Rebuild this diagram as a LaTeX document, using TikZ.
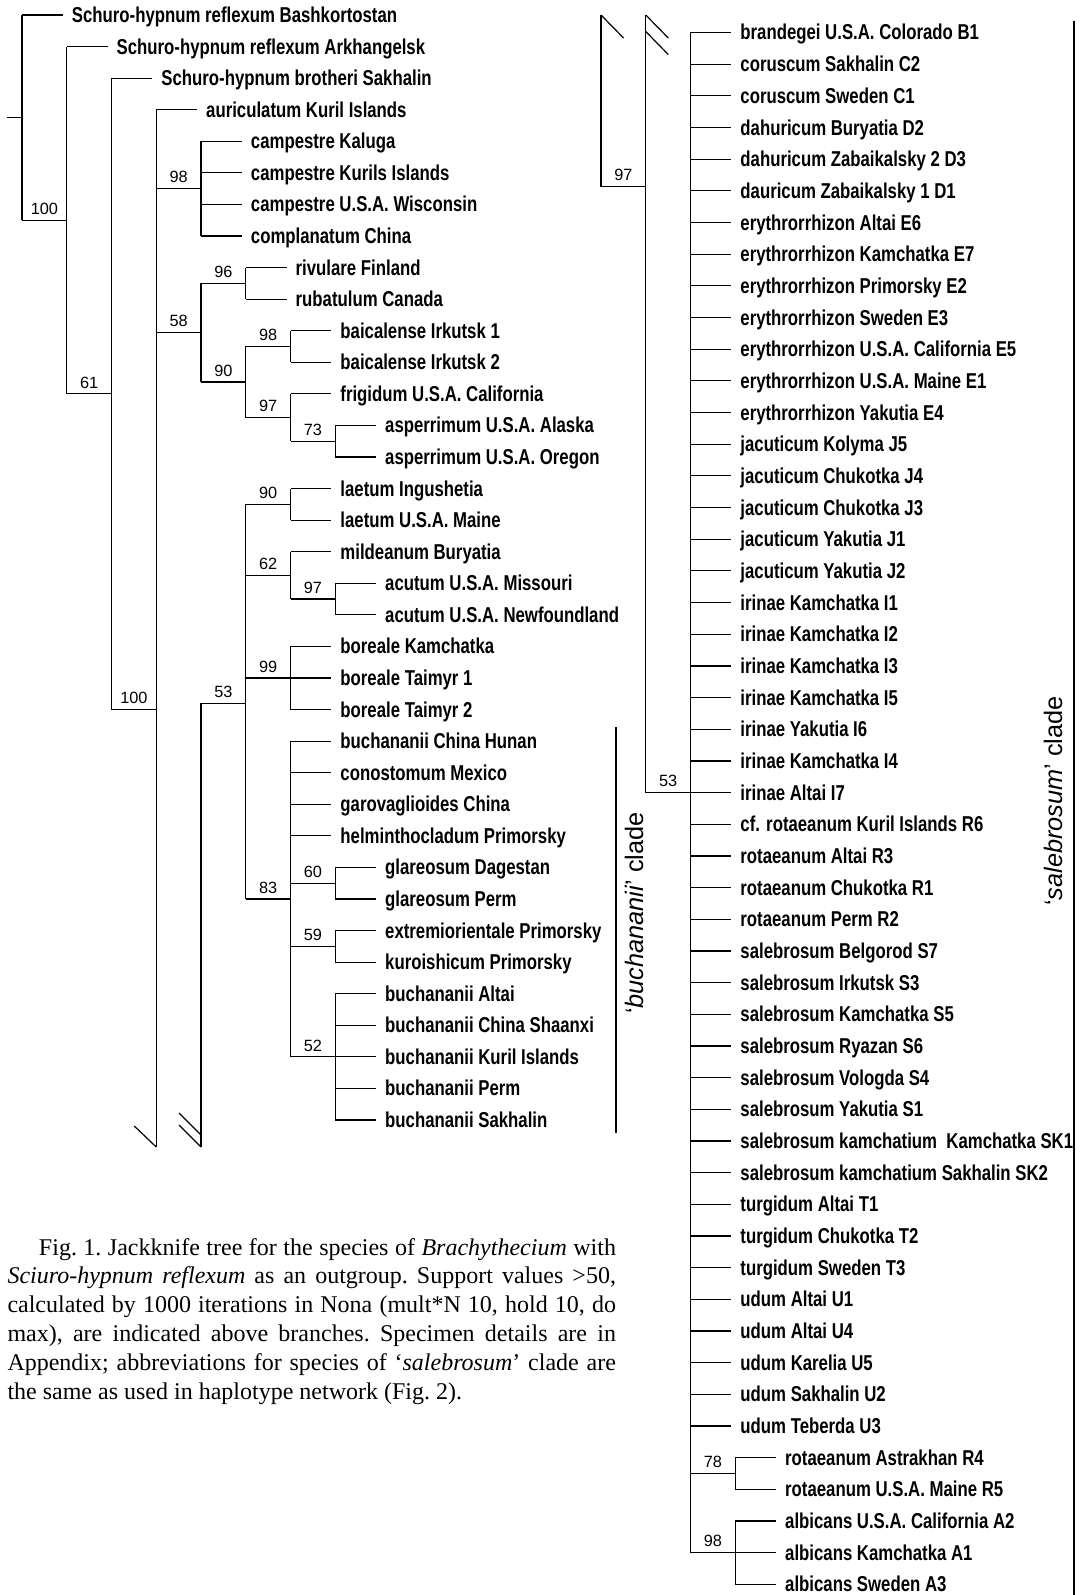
\documentclass[tikz,border=0pt]{standalone}
\usepackage{fontspec}
\setmainfont{Liberation Serif}
\newfontfamily\taxonfont[FakeStretch=0.78]{Liberation Sans}
\newfontfamily\cladefont{Liberation Sans}
\usetikzlibrary{positioning}

\tikzset{
  branch/.style={line width=1.2pt},
  taxon/.style={anchor=west, inner sep=0pt, text height=15pt, text depth=0pt,
    font=\taxonfont\bfseries\fontsize{21.5}{23}\selectfont},
  support/.style={anchor=south, inner sep=0pt, yshift=5pt,
    font=\cladefont\fontsize{16.3}{18}\selectfont},
  cladebar/.style={line width=2.6pt},
  cladename/.style={rotate=90, inner sep=0pt, font=\cladefont\fontsize{25.3}{27}\selectfont},
}

\begin{document}
\begin{tikzpicture}[x=1pt, y=-1pt]

  % Grid of the tree
  \def\dx{44.75}
  \def\xL{22}
  \def\yL{15}
  \def\dyL{31.57}
  \def\xR{601}
  \def\yR{32.5}
  \def\dyR{31.67}

  \useasboundingbox (0,0) rectangle (1083,1595);

  % Inner nodes, left part
  \coordinate (root)   at (\xL, {\yL+3.25*\dyL});
  \coordinate (n100a)  at ({\xL+\dx}, {\yL+6.5*\dyL});
  \coordinate (n61)    at ({\xL+2*\dx}, {\yL+12*\dyL});
  \coordinate (n100b)  at ({\xL+3*\dx}, {\yL+22*\dyL});
  \coordinate (n98)    at ({\xL+4*\dx}, {\yL+5.5*\dyL});
  \coordinate (n58)    at ({\xL+4*\dx}, {\yL+10.0625*\dyL});
  \coordinate (n96)    at ({\xL+5*\dx}, {\yL+8.5*\dyL});
  \coordinate (n90)    at ({\xL+5*\dx}, {\yL+11.625*\dyL});
  \coordinate (n98b)   at ({\xL+6*\dx}, {\yL+10.5*\dyL});
  \coordinate (n97)    at ({\xL+6*\dx}, {\yL+12.75*\dyL});
  \coordinate (n73)    at ({\xL+7*\dx}, {\yL+13.5*\dyL});
  \coordinate (stem53) at ({\xL+4*\dx}, {\yL+21.8*\dyL});
  \coordinate (n53)    at ({\xL+5*\dx}, {\yL+21.8*\dyL});
  \coordinate (n90b)   at ({\xL+6*\dx}, {\yL+15.5*\dyL});
  \coordinate (n62)    at ({\xL+6*\dx}, {\yL+17.75*\dyL});
  \coordinate (n97b)   at ({\xL+7*\dx}, {\yL+18.5*\dyL});
  \coordinate (n99)    at ({\xL+6*\dx}, {\yL+21*\dyL});
  \coordinate (n83)    at ({\xL+6*\dx}, {\yL+28*\dyL});
  \coordinate (n60)    at ({\xL+7*\dx}, {\yL+27.5*\dyL});
  \coordinate (n59)    at ({\xL+7*\dx}, {\yL+29.5*\dyL});
  \coordinate (n52)    at ({\xL+7*\dx}, {\yL+33*\dyL});
  \coordinate (cutA)   at ({\xL+3*\dx}, 1147);
  \coordinate (cutB)   at ({\xL+4*\dx}, 1147);

  % Terminal taxa, left part
  \foreach \i/\k/\p/\lab in {
      0/1/root/Schuro-hypnum reflexum Bashkortostan,
      1/2/n100a/Schuro-hypnum reflexum Arkhangelsk,
      2/3/n61/Schuro-hypnum brotheri Sakhalin,
      3/4/n100b/auriculatum Kuril Islands,
      4/5/n98/campestre Kaluga,
      5/5/n98/campestre Kurils Islands,
      6/5/n98/campestre U.S.A. Wisconsin,
      7/5/n98/complanatum China,
      8/6/n96/rivulare Finland,
      9/6/n96/rubatulum Canada,
      10/7/n98b/baicalense Irkutsk 1,
      11/7/n98b/baicalense Irkutsk 2,
      12/7/n97/frigidum U.S.A. California,
      13/8/n73/asperrimum U.S.A. Alaska,
      14/8/n73/asperrimum U.S.A. Oregon,
      15/7/n90b/laetum Ingushetia,
      16/7/n90b/laetum U.S.A. Maine,
      17/7/n62/mildeanum Buryatia,
      18/8/n97b/acutum U.S.A. Missouri,
      19/8/n97b/acutum U.S.A. Newfoundland,
      20/7/n99/boreale Kamchatka,
      21/7/n99/boreale Taimyr 1,
      22/7/n99/boreale Taimyr 2,
      23/7/n83/buchananii China Hunan,
      24/7/n83/conostomum Mexico,
      25/7/n83/garovaglioides China,
      26/7/n83/helminthocladum Primorsky,
      27/8/n60/glareosum Dagestan,
      28/8/n60/glareosum Perm,
      29/8/n59/extremiorientale Primorsky,
      30/8/n59/kuroishicum Primorsky,
      31/8/n52/buchananii Altai,
      32/8/n52/buchananii China Shaanxi,
      33/8/n52/buchananii Kuril Islands,
      34/8/n52/buchananii Perm,
      35/8/n52/buchananii Sakhalin}{
    \node[taxon] (a\i) at ({\xL+\k*\dx+5}, {\yL+\i*\dyL}) {\lab};
    \draw[branch] (\p |- a\i.west) -- ([xshift=-9pt]a\i.west);
  }

  % Vertical lines, left part
  \draw[branch] ([xshift=-15pt]root) -- (root);
  \draw[branch] (root |- a0.west) -- (root |- n100a);
  \draw[branch] (n100a |- a1.west) -- (n100a |- n61);
  \draw[branch] (n61 |- a2.west) -- (n61 |- n100b);
  \draw[branch] (n100b |- a3.west) -- (cutA);
  \draw[branch] (n98 |- a4.west) -- (n98 |- a7.west);
  \draw[branch] (n58 |- n96) -- (n58 |- n90);
  \draw[branch] (n96 |- a8.west) -- (n96 |- a9.west);
  \draw[branch] (n90 |- n98b) -- (n90 |- n97);
  \draw[branch] (n98b |- a10.west) -- (n98b |- a11.west);
  \draw[branch] (n97 |- a12.west) -- (n97 |- n73);
  \draw[branch] (n73 |- a13.west) -- (n73 |- a14.west);
  \draw[branch] (stem53) -- (cutB);
  \draw[branch] (n53 |- n90b) -- (n53 |- n83);
  \draw[branch] (n90b |- a15.west) -- (n90b |- a16.west);
  \draw[branch] (n62 |- a17.west) -- (n62 |- n97b);
  \draw[branch] (n97b |- a18.west) -- (n97b |- a19.west);
  \draw[branch] (n99 |- a20.west) -- (n99 |- a22.west);
  \draw[branch] (n83 |- a23.west) -- (n83 |- n52);
  \draw[branch] (n60 |- a27.west) -- (n60 |- a28.west);
  \draw[branch] (n59 |- a29.west) -- (n59 |- a30.west);
  \draw[branch] (n52 |- a31.west) -- (n52 |- a35.west);

  % Supported branches, left part
  \draw[branch] (root |- n100a) -- (n100a) node[support, midway] {100};
  \draw[branch] (n100a |- n61) -- (n61) node[support, midway] {61};
  \draw[branch] (n61 |- n100b) -- (n100b) node[support, midway] {100};
  \draw[branch] (n100b |- n98) -- (n98) node[support, midway] {98};
  \draw[branch] (n100b |- n58) -- (n58) node[support, midway] {58};
  \draw[branch] (n58 |- n96) -- (n96) node[support, midway] {96};
  \draw[branch] (n58 |- n90) -- (n90) node[support, midway] {90};
  \draw[branch] (n90 |- n98b) -- (n98b) node[support, midway] {98};
  \draw[branch] (n90 |- n97) -- (n97) node[support, midway] {97};
  \draw[branch] (n97 |- n73) -- (n73) node[support, midway] {73};
  \draw[branch] (stem53) -- (n53) node[support, midway] {53};
  \draw[branch] (n53 |- n90b) -- (n90b) node[support, midway] {90};
  \draw[branch] (n53 |- n62) -- (n62) node[support, midway] {62};
  \draw[branch] (n62 |- n97b) -- (n97b) node[support, midway] {97};
  \draw[branch] (n53 |- n99) -- (n99) node[support, midway] {99};
  \draw[branch] (n53 |- n83) -- (n83) node[support, midway] {83};
  \draw[branch] (n83 |- n60) -- (n60) node[support, midway] {60};
  \draw[branch] (n83 |- n59) -- (n59) node[support, midway] {59};
  \draw[branch] (n83 |- n52) -- (n52) node[support, midway] {52};

  % Cut marks, left part
  \draw[branch] (cutA) -- ++(-22,-21);
  \draw[branch] (cutB) -- ++(-22,-22);
  \draw[branch] ([yshift=12pt]cutB) -- ++(-22,-22);

  % Inner nodes, right part
  \coordinate (topA) at (\xR, 15);
  \coordinate (topB) at ({\xR+\dx}, 15);
  \coordinate (n97r) at ({\xR+\dx}, 186.7);
  \coordinate (n53r) at ({\xR+2*\dx}, {\yR+24*\dyR});
  \coordinate (n78)  at ({\xR+3*\dx}, {\yR+45.5*\dyR});
  \coordinate (n98r) at ({\xR+3*\dx}, {\yR+48*\dyR});

  % Terminal taxa, right part
  \foreach \i/\k/\p/\lab in {
      0/3/n53r/brandegei U.S.A. Colorado B1,
      1/3/n53r/coruscum Sakhalin C2,
      2/3/n53r/coruscum Sweden C1,
      3/3/n53r/dahuricum Buryatia D2,
      4/3/n53r/dahuricum Zabaikalsky 2 D3,
      5/3/n53r/dauricum Zabaikalsky 1 D1,
      6/3/n53r/erythrorrhizon Altai E6,
      7/3/n53r/erythrorrhizon Kamchatka E7,
      8/3/n53r/erythrorrhizon Primorsky E2,
      9/3/n53r/erythrorrhizon Sweden E3,
      10/3/n53r/erythrorrhizon U.S.A. California E5,
      11/3/n53r/erythrorrhizon U.S.A. Maine E1,
      12/3/n53r/erythrorrhizon Yakutia E4,
      13/3/n53r/jacuticum Kolyma J5,
      14/3/n53r/jacuticum Chukotka J4,
      15/3/n53r/jacuticum Chukotka J3,
      16/3/n53r/jacuticum Yakutia J1,
      17/3/n53r/jacuticum Yakutia J2,
      18/3/n53r/irinae Kamchatka I1,
      19/3/n53r/irinae Kamchatka I2,
      20/3/n53r/irinae Kamchatka I3,
      21/3/n53r/irinae Kamchatka I5,
      22/3/n53r/irinae Yakutia I6,
      23/3/n53r/irinae Kamchatka I4,
      24/3/n53r/irinae Altai I7,
      25/3/n53r/cf. rotaeanum Kuril Islands R6,
      26/3/n53r/rotaeanum Altai R3,
      27/3/n53r/rotaeanum Chukotka R1,
      28/3/n53r/rotaeanum Perm R2,
      29/3/n53r/salebrosum Belgorod S7,
      30/3/n53r/salebrosum Irkutsk S3,
      31/3/n53r/salebrosum Kamchatka S5,
      32/3/n53r/salebrosum Ryazan S6,
      33/3/n53r/salebrosum Vologda S4,
      34/3/n53r/salebrosum Yakutia S1,
      35/3/n53r/salebrosum kamchatium~ Kamchatka SK1,
      36/3/n53r/salebrosum kamchatium Sakhalin SK2,
      37/3/n53r/turgidum Altai T1,
      38/3/n53r/turgidum Chukotka T2,
      39/3/n53r/turgidum Sweden T3,
      40/3/n53r/udum Altai U1,
      41/3/n53r/udum Altai U4,
      42/3/n53r/udum Karelia U5,
      43/3/n53r/udum Sakhalin U2,
      44/3/n53r/udum Teberda U3,
      45/4/n78/rotaeanum Astrakhan R4,
      46/4/n78/rotaeanum U.S.A. Maine R5,
      47/4/n98r/albicans U.S.A. California A2,
      48/4/n98r/albicans Kamchatka A1,
      49/4/n98r/albicans Sweden A3}{
    \node[taxon] (b\i) at ({\xR+\k*\dx+5}, {\yR+\i*\dyR}) {\lab};
    \draw[branch] (\p |- b\i.west) -- ([xshift=-9pt]b\i.west);
  }

  % Vertical lines, right part
  \draw[branch] (topA) -- (topA |- n97r);
  \draw[branch] (topB) -- (topB |- n53r);
  \draw[branch] (n53r |- b0.west) -- (n53r |- n98r);
  \draw[branch] (n78 |- b45.west) -- (n78 |- b46.west);
  \draw[branch] (n98r |- b47.west) -- (n98r |- b49.west);

  % Supported branches, right part
  \draw[branch] (topA |- n97r) -- (n97r) node[support, midway] {97};
  \draw[branch] (topB |- n53r) -- (n53r) node[support, midway] {53};
  \draw[branch] (n53r |- n78) -- (n78) node[support, midway] {78};
  \draw[branch] (n53r |- n98r) -- (n98r) node[support, midway] {98};

  % Cut marks, right part
  \draw[branch] (topA) -- ++(22.5,23);
  \draw[branch] (topB) -- ++(22.5,23);
  \draw[branch] ([yshift=-16.5pt]topB) -- ++(22.5,23);

  % Clades
  \draw[cladebar] (616,727) -- (616,1133);
  \node[cladename] (buchclade) at (634,913) {‘\textit{buchananii}’ clade};
  \draw[cladebar] (1074,21) -- (1074,1595);
  \node[cladename] (salclade) at (1053,801) {‘\textit{salebrosum}’ clade};

  % Caption
  \node[anchor=base west, inner sep=0pt, text width=608.5pt, align=justify,
    font=\fontsize{24}{28.9}\selectfont\frenchspacing] (caption) at (7.3,1255)
    {\hspace*{31.5pt}Fig. 1. Jackknife tree for the species of \textit{Brachythecium} with\linebreak
     \textit{Sciuro-hypnum reflexum} as an outgroup. Support values >50,\linebreak
     calculated by 1000 iterations in Nona (mult*N 10, hold 10, do\linebreak
     max), are indicated above branches. Specimen details are in\linebreak
     Appendix; abbreviations for species of ‘\textit{salebrosum}’ clade are\linebreak
     the same as used in haplotype network (Fig. 2).};

\end{tikzpicture}
\end{document}
